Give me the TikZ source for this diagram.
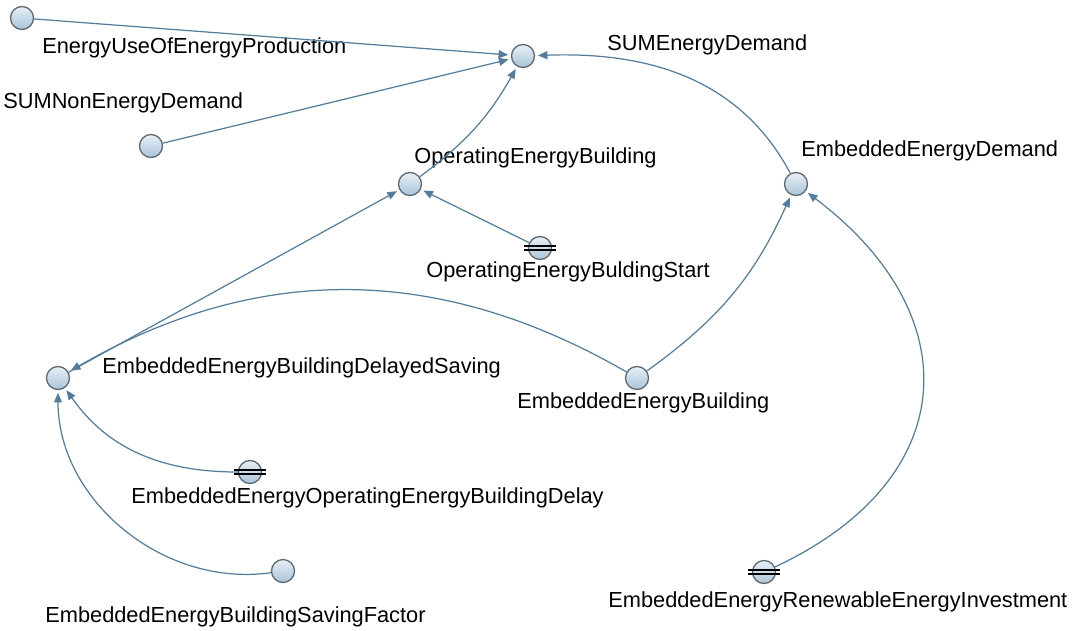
\documentclass[tikz,border=0pt]{standalone}
\usepackage{fontspec}
\setmainfont{Liberation Sans}
\usetikzlibrary{arrows.meta}

\definecolor{linkblue}{RGB}{84,125,156}
\definecolor{nodetop}{RGB}{232,240,247}
\definecolor{nodebot}{RGB}{168,195,216}
\definecolor{nodeline}{RGB}{96,104,112}

\begin{document}
\begin{tikzpicture}[
  x=0.02cm, y=0.02cm,
  var/.style={circle,draw=nodeline,line width=0.75pt,top color=nodetop,
    bottom color=nodebot,minimum size=0.46cm,inner sep=0pt},
  lbl/.style={font=\fontsize{12.4}{14}\selectfont,anchor=west,inner sep=0pt},
  link/.style={draw=linkblue,line width=0.7pt,
    -{Triangle[length=5.5pt,width=4.5pt]},shorten >=1.5pt},
  bars/.style={line width=0.6pt,black}
]
\useasboundingbox (0,0) rectangle (1074,-630);

% ---- variables ----
\node[var] (euep) at (22,-18)  {};
\node[var] (sum)  at (523,-56) {};
\node[var] (snd)  at (151,-146) {};
\node[var] (oeb)  at (410,-184) {};
\node[var] (ed)   at (796,-184) {};
\node[var] (oebs) at (540,-248) {};
\node[var] (ds)   at (58,-378)  {};
\node[var] (eeb)  at (637,-378) {};
\node[var] (dly)  at (250,-472) {};
\node[var] (sf)   at (283,-571) {};
\node[var] (rei)  at (764,-572) {};

% ---- labels ----
\node[lbl] (euep-l) at (42,-48)   {EnergyUseOfEnergyProduction};
\node[lbl] (sum-l)  at (607,-45)  {SUMEnergyDemand};
\node[lbl] (snd-l)  at (3,-103)   {SUMNonEnergyDemand};
\node[lbl] (oeb-l)  at (414,-158) {OperatingEnergyBuilding};
\node[lbl] (ed-l)   at (801,-151) {EmbeddedEnergyDemand};
\node[lbl] (oebs-l) at (426,-272) {OperatingEnergyBuldingStart};
\node[lbl] (ds-l)   at (102,-368) {EmbeddedEnergyBuildingDelayedSaving};
\node[lbl] (eeb-l)  at (517,-403) {EmbeddedEnergyBuilding};
\node[lbl] (dly-l)  at (131,-498) {EmbeddedEnergyOperatingEnergyBuildingDelay};
\node[lbl] (sf-l)   at (45,-617)  {EmbeddedEnergyBuildingSavingFactor};
\node[lbl] (rei-l)  at (608,-602) {EmbeddedEnergyRenewableEnergyInvestment};

% ---- links ----
\draw[link] (euep) -- (sum);
\draw[link] (snd) -- (sum);
\draw[link] (oeb) to[bend right=12] (sum);
\draw[link] (ed) to[out=118,in=2] (sum);
\draw[link] (oebs) -- (oeb);
\draw[link] (ds) -- (oeb);
\draw[link] (eeb) to[bend right=30] (ds);
\draw[link] (eeb) to[bend right=15] (ed);
\draw[link] (rei) to[out=25,in=-37,looseness=1.4] (ed);
\draw[link] (dly) to[out=180,in=-55] (ds);
\draw[link] (sf) to[out=188,in=-90] (ds);

% ---- constants ----
\foreach \c in {oebs,dly,rei}{
  \draw[bars] ([shift={(-16,2)}]\c.center) -- ++(32,0)
              ([shift={(-16,-2)}]\c.center) -- ++(32,0);
}
\end{tikzpicture}
\end{document}
